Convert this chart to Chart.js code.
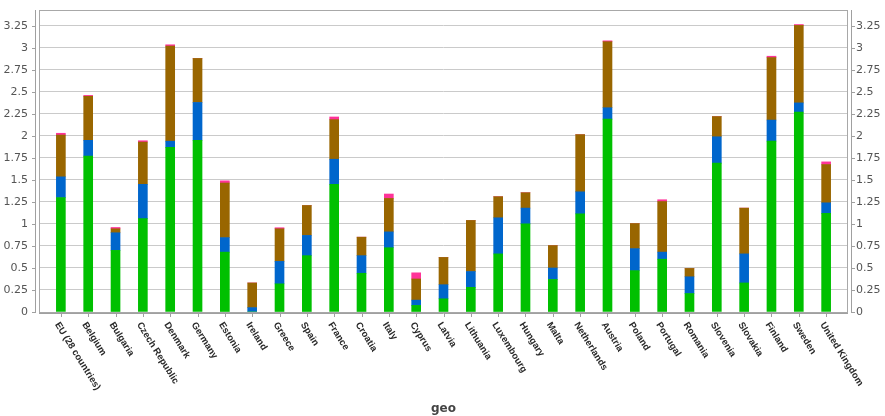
<!DOCTYPE html>
<html><head><meta charset="utf-8">
<script src="https://cdn.jsdelivr.net/npm/chart.js@4/dist/chart.umd.min.js"></script>
<style>html,body{margin:0;padding:0;background:#fff}#wrap{width:885px;height:416px}</style>
</head><body><div id="wrap"><canvas id="c" width="885" height="416"></canvas></div>
<script>
const categories = ["EU (28 countries)","Belgium","Bulgaria","Czech Republic","Denmark","Germany","Estonia","Ireland","Greece","Spain","France","Croatia","Italy","Cyprus","Latvia","Lithuania","Luxembourg","Hungary","Malta","Netherlands","Austria","Poland","Portugal","Romania","Slovenia","Slovakia","Finland","Sweden","United Kingdom"];
const greenSeries = [1.30,1.77,0.70,1.06,1.87,1.95,0.68,0.00,0.32,0.64,1.45,0.44,0.73,0.075,0.15,0.28,0.66,1.00,0.37,1.115,2.19,0.47,0.60,0.21,1.69,0.33,1.94,2.27,1.12];
const blueSeries  = [0.235,0.18,0.20,0.39,0.07,0.43,0.165,0.05,0.255,0.23,0.285,0.20,0.18,0.06,0.16,0.18,0.41,0.18,0.13,0.25,0.13,0.25,0.08,0.19,0.30,0.33,0.24,0.105,0.12];
const brownSeries = [0.475,0.50,0.045,0.48,1.08,0.50,0.62,0.28,0.37,0.34,0.45,0.21,0.38,0.24,0.31,0.58,0.24,0.175,0.255,0.65,0.75,0.285,0.575,0.095,0.23,0.52,0.71,0.88,0.435];
const pinkSeries  = [0.02,0.01,0.015,0.015,0.015,0.0,0.025,0.0,0.012,0.0,0.03,0.0,0.05,0.07,0.0,0.0,0.0,0.0,0.0,0.0,0.01,0.0,0.02,0.0,0.0,0.0,0.015,0.01,0.03];
const yTickStep = 0.25;
const yMax = 3.43;
const xTitle = "geo";

const toPoints = arr => arr.map((v, i) => ({x: i, y: v}));
const fmt = v => String(+Number(v).toFixed(2));

const decorPlugin = {
  id: 'decor',
  afterDraw(chart) {
    const {ctx, chartArea: a, scales} = chart;
    const xs = scales.x, ys = scales.y;
    ctx.save();
    ctx.strokeStyle = '#a8a8a8';
    ctx.lineWidth = 1;
    ctx.strokeRect(a.left + 0.5, a.top + 0.5, a.right - a.left - 1, a.bottom - a.top);
    ctx.strokeStyle = '#a0a0a0';
    ctx.beginPath();
    ctx.moveTo(a.left - 3.5, a.top); ctx.lineTo(a.left - 3.5, a.bottom + 1);
    ctx.moveTo(a.right + 3.5, a.top); ctx.lineTo(a.right + 3.5, a.bottom + 1);
    ctx.moveTo(a.left, a.bottom + 1.5); ctx.lineTo(a.right, a.bottom + 1.5);
    ys.ticks.forEach(t => {
      const y = Math.round(ys.getPixelForValue(t.value)) + 0.5;
      ctx.moveTo(a.left - 7, y); ctx.lineTo(a.left - 3, y);
      ctx.moveTo(a.right + 3, y); ctx.lineTo(a.right + 7, y);
    });
    categories.forEach((c, i) => {
      const x = Math.round(xs.getPixelForValue(i)) + 0.5;
      ctx.moveTo(x, a.bottom + 2); ctx.lineTo(x, a.bottom + 5);
    });
    ctx.stroke();
    ctx.fillStyle = '#2a2a2a';
    ctx.font = 'bold 9.5px "Liberation Sans"';
    ctx.textAlign = 'left';
    ctx.textBaseline = 'middle';
    const ang = 58 * Math.PI / 180;
    categories.forEach((c, i) => {
      const x = xs.getPixelForValue(i);
      ctx.save();
      ctx.translate(x - 4, a.bottom + 11);
      ctx.rotate(ang);
      ctx.fillText(c, 0, 0);
      ctx.restore();
    });
    ctx.restore();
  }
};

const ds = (label, arr, color) => ({
  label, data: toPoints(arr), backgroundColor: color, borderWidth: 0,
  barThickness: 9, yAxisID: 'y'
});

const noPad = s => { s.paddingTop = 0; s.paddingBottom = 0; };

new Chart(document.getElementById('c'), {
  type: 'bar',
  data: {
    datasets: [
      ds('Series 1', greenSeries, '#00c000'),
      ds('Series 2', blueSeries, '#0066cc'),
      ds('Series 3', brownSeries, '#996600'),
      ds('Series 4', pinkSeries, '#ff3399')
    ]
  },
  options: {
    responsive: false,
    animation: false,
    devicePixelRatio: 1,
    layout: {padding: {top: 10, left: 0, right: 0, bottom: 0}},
    plugins: {legend: {display: false}, tooltip: {enabled: false}},
    scales: {
      x: {
        type: 'linear', stacked: true, min: -0.8, max: 28.8, offset: false,
        grid: {display: false},
        border: {display: false},
        ticks: {display: false, stepSize: 1},
        title: {display: true, text: xTitle, color: '#444', font: {family: 'DejaVu Sans', size: 12, weight: 'bold'}, padding: {top: 0, bottom: 0}},
        afterFit(s) { s.height = 104; s.paddingLeft = 0; s.paddingRight = 0; }
      },
      y: {
        position: 'left', stacked: true, min: 0, max: yMax,
        grid: {color: '#cacaca', drawTicks: false},
        border: {display: false},
        ticks: {stepSize: yTickStep, includeBounds: false, padding: 11, color: '#555', font: {family: 'DejaVu Sans', size: 11}, callback: fmt},
        afterFit(s) { s.width = 39; noPad(s); }
      },
      y2: {
        position: 'right', min: 0, max: yMax,
        grid: {display: false, drawTicks: false},
        border: {display: false},
        ticks: {stepSize: yTickStep, includeBounds: false, padding: 8, color: '#555', font: {family: 'DejaVu Sans', size: 11}, callback: fmt},
        afterFit(s) { s.width = 37; noPad(s); }
      }
    }
  },
  plugins: [decorPlugin]
});
</script>
</body></html>
